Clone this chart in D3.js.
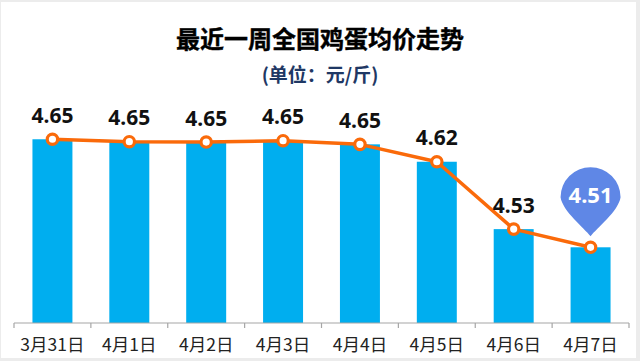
<!DOCTYPE html>
<html>
<head>
<meta charset="utf-8">
<script src="https://cdn.jsdelivr.net/npm/d3@7/dist/d3.min.js"></script>
<style>
  html, body { margin: 0; padding: 0; background: #ececec; }
  svg { display: block; }
</style>
</head>
<body>
<svg id="chart" width="640" height="361"></svg>
<script>
// ---- data ----
const categories = ["3月31日", "4月1日", "4月2日", "4月3日", "4月4日", "4月5日", "4月6日", "4月7日"];
const prices = [4.6527, 4.6495, 4.649, 4.6508, 4.646, 4.623, 4.534, 4.51];
const titleText = "最近一周全国鸡蛋均价走势";
const subtitleText = "(单位：元/斤)";

// ---- layout ----
const svg = d3.select("#chart");
svg.append("rect").attr("x", 1).attr("y", 2).attr("width", 635).attr("height", 356).attr("fill", "#ffffff");

const x = d3.scaleBand().domain(categories).range([14, 629]).paddingInner(0.48).paddingOuter(0.24);
const y = d3.scaleLinear().domain([4.41, 4.75]).range([323, 65.6]);

const cx = d => x(d) + x.bandwidth() / 2;

// title
svg.append("text").attr("x", 320).attr("y", 48).attr("text-anchor", "middle")
  .attr("font-family", "'Noto Sans CJK SC', sans-serif").attr("font-weight", 700)
  .attr("font-size", 24).attr("fill", "#000").attr("stroke", "#000").attr("stroke-width", 0.4)
  .text(titleText);
svg.append("text").attr("x", 320).attr("y", 82).attr("text-anchor", "middle")
  .attr("font-family", "'Noto Sans CJK SC', sans-serif").attr("font-weight", 700)
  .attr("font-size", 19).attr("fill", "#1f3864").text(subtitleText);

// bars
svg.append("g").selectAll("rect").data(categories).join("rect")
  .attr("x", d => x(d)).attr("width", x.bandwidth())
  .attr("y", (d, i) => y(prices[i])).attr("height", (d, i) => y.range()[0] - y(prices[i]))
  .attr("fill", "#00aeef");

// axis
const axisG = svg.append("g").attr("transform", "translate(0,323)");
const axisX = d3.scaleLinear().domain([0, categories.length]).range([14, 629]);
axisG.append("line").attr("x1", 14).attr("x2", 629).attr("stroke", "#a6a6a6").attr("stroke-width", 1.2);
axisG.selectAll("line.tick").data(d3.range(categories.length + 1)).join("line")
  .attr("class", "tick").attr("x1", d => axisX(d)).attr("x2", d => axisX(d))
  .attr("y1", 0).attr("y2", 5).attr("stroke", "#a6a6a6").attr("stroke-width", 1.2);
axisG.selectAll("text").data(categories).join("text")
  .attr("x", d => cx(d)).attr("y", 28).attr("text-anchor", "middle")
  .attr("font-family", "'Noto Sans CJK SC', sans-serif").attr("font-size", 17.5)
  .attr("fill", "#222").text(d => d);

// line
const line = d3.line().x((d, i) => cx(categories[i])).y(d => y(d));
svg.append("path").datum(prices).attr("d", line).attr("fill", "none")
  .attr("stroke", "#fa6a0a").attr("stroke-width", 3.5).attr("stroke-linejoin", "round");
svg.append("g").selectAll("circle").data(prices).join("circle")
  .attr("cx", (d, i) => cx(categories[i])).attr("cy", d => y(d)).attr("r", 5.2)
  .attr("fill", "#fff").attr("stroke", "#fa6a0a").attr("stroke-width", 3.2);

// value labels (all except last)
const last = prices.length - 1;
svg.append("g").selectAll("text").data(prices.slice(0, last)).join("text")
  .attr("x", (d, i) => cx(categories[i])).attr("y", d => y(d) - 16.5)
  .attr("text-anchor", "middle").attr("font-family", "'Noto Sans', sans-serif")
  .attr("font-weight", 700).attr("font-size", 21).attr("fill", "#111")
  .text(d => d.toFixed(2));

// pin for the last value
const px = cx(categories[last]);
const tipY = y(prices[last]) - 11;
const r = 30, cyPin = tipY - 41;
const pinPath = `M${px},${tipY} C${px - 6},${tipY - 8} ${px - r + 2},${cyPin + 16} ${px - r},${cyPin + 2}`
  + ` A${r},${r} 0 1 1 ${px + r},${cyPin + 2}`
  + ` C${px + r - 2},${cyPin + 16} ${px + 6},${tipY - 8} ${px},${tipY} Z`;
svg.append("path").attr("d", pinPath).attr("fill", "#5f87e6");
svg.append("text").attr("x", px).attr("y", cyPin + 8).attr("text-anchor", "middle")
  .attr("font-family", "'Noto Sans', sans-serif").attr("font-weight", 700)
  .attr("font-size", 22).attr("fill", "#fff").text(prices[last].toFixed(2));
</script>
</body>
</html>
